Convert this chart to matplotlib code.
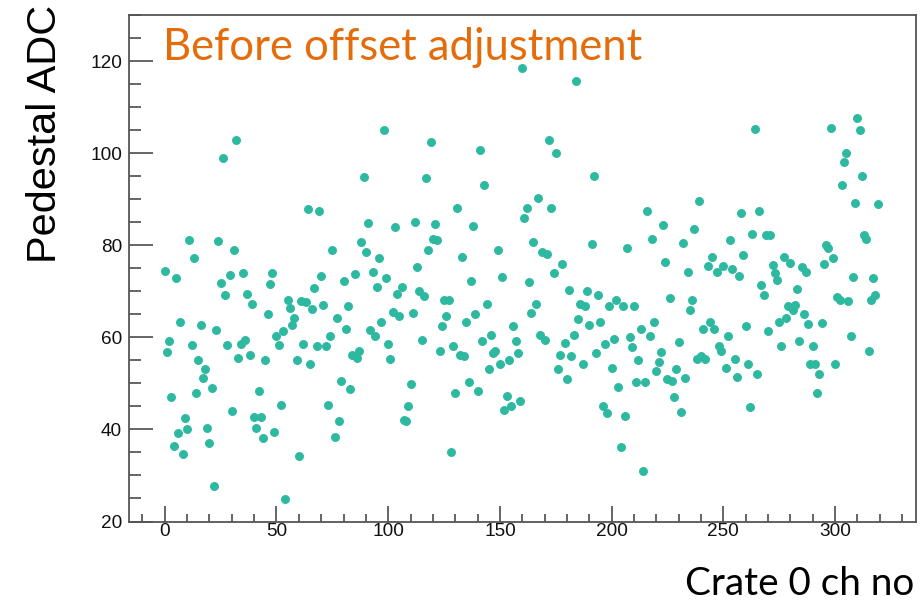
import numpy as np
import matplotlib
matplotlib.use("Agg")
import matplotlib.pyplot as plt
from matplotlib.ticker import MultipleLocator

# ---------------- data ----------------
channels = np.arange(320)
pedestal = [
    74.3, 56.9, 59.1, 47.0, 36.5, 72.9, 39.2, 63.4, 34.7, 42.5,
    40.0, 81.2, 58.3, 77.2, 47.9, 55.0, 62.6, 51.1, 53.1, 40.3,
    37.1, 49.0, 27.8, 61.6, 80.9, 71.7, 98.9, 69.1, 58.3, 73.6,
    44.0, 79.0, 102.9, 55.5, 58.6, 74.0, 59.4, 69.3, 56.1, 67.2,
    42.6, 40.4, 48.3, 42.8, 38.1, 55.1, 65.0, 71.5, 74.0, 39.4,
    60.2, 58.3, 45.2, 61.4, 24.9, 68.2, 66.3, 62.7, 64.1, 55.0,
    34.2, 67.9, 58.6, 67.7, 87.9, 54.2, 66.2, 70.8, 58.1, 87.4,
    73.3, 67.0, 58.1, 45.2, 60.2, 79.0, 38.3, 64.1, 41.9, 50.5,
    72.2, 61.7, 66.9, 48.8, 56.1, 73.8, 55.5, 57.1, 80.8, 94.8,
    78.6, 84.8, 61.6, 74.1, 60.2, 70.9, 77.2, 63.3, 105.1, 72.8,
    58.6, 55.2, 65.5, 83.9, 69.5, 64.6, 71.0, 42.0, 41.9, 45.0,
    49.9, 65.3, 85.0, 75.3, 70.1, 59.5, 68.9, 94.6, 78.9, 102.5,
    81.3, 84.6, 81.1, 57.1, 62.5, 68.0, 64.6, 68.2, 35.2, 58.1,
    48.0, 88.1, 56.2, 77.4, 56.0, 63.3, 50.2, 72.2, 84.1, 65.0,
    48.4, 100.7, 59.3, 93.1, 67.2, 53.1, 60.4, 56.6, 57.1, 79.0,
    54.1, 73.1, 44.3, 47.2, 55.1, 45.1, 62.4, 59.1, 56.5, 46.1,
    118.4, 85.9, 88.0, 72.1, 65.3, 80.8, 67.2, 90.3, 60.6, 78.6,
    59.4, 78.1, 102.9, 88.1, 74.0, 100.1, 53.1, 56.1, 75.9, 58.8,
    51.0, 70.3, 56.0, 60.4, 115.7, 64.0, 67.2, 54.2, 66.9, 70.0,
    62.6, 80.3, 95.0, 56.6, 69.1, 63.3, 45.0, 58.6, 43.5, 66.9,
    53.3, 59.7, 68.2, 49.3, 36.2, 66.9, 42.9, 79.5, 60.0, 57.8,
    66.9, 50.3, 55.0, 61.8, 30.9, 50.3, 87.4, 60.2, 81.4, 63.3,
    52.7, 54.6, 56.9, 84.3, 76.3, 51.0, 68.6, 50.5, 47.1, 53.1,
    58.9, 43.8, 80.5, 51.1, 74.1, 65.9, 68.1, 83.6, 55.2, 89.5,
    55.9, 61.7, 55.2, 75.5, 63.4, 77.4, 61.7, 74.1, 58.2, 57.1,
    75.4, 53.3, 60.2, 81.2, 74.8, 55.2, 51.4, 73.3, 86.9, 77.8,
    62.4, 54.3, 44.8, 82.4, 105.2, 52.0, 87.4, 71.4, 69.1, 82.3,
    61.4, 82.3, 75.7, 73.9, 72.4, 63.4, 58.1, 77.5, 64.1, 66.7,
    76.2, 66.0, 67.0, 70.5, 59.1, 75.2, 65.0, 74.2, 62.8, 54.3,
    58.1, 54.3, 48.0, 52.1, 63.1, 75.9, 80.1, 79.3, 105.5, 77.3,
    54.2, 68.7, 68.2, 93.0, 98.1, 100.1, 67.9, 60.2, 73.1, 89.1,
    107.6, 105.0, 95.0, 82.3, 81.3, 57.1, 68.1, 72.9, 69.2, 89.0,
]
title_text = "Before offset adjustment"
xlabel_text = "Crate 0 ch no"
ylabel_text = "Pedestal ADC"

# ---------------- figure ----------------
W, H = 924, 603
fig = plt.figure(figsize=(W / 100, H / 100), dpi=100)
fig.patch.set_facecolor("white")

left, right, top, bottom = 129, 915.5, 15, 521.5
ax = fig.add_axes([left / W, (H - bottom) / H, (right - left) / W, (bottom - top) / H])

ax.plot(channels, pedestal, linestyle="none", marker="o", ms=5.8,
        mfc="#2db8a0", mec="#2db8a0", mew=0.6)

ax.set_xlim(-16, 336)
ax.set_ylim(20, 130)
ax.xaxis.set_major_locator(MultipleLocator(50))
ax.xaxis.set_minor_locator(MultipleLocator(10))
ax.yaxis.set_major_locator(MultipleLocator(20))
ax.yaxis.set_minor_locator(MultipleLocator(5))

tick_col = "#3c3c3c"
for s in ax.spines.values():
    s.set_color("#555555")
    s.set_linewidth(1.3)

ax.tick_params(axis="y", which="major", direction="in", length=17.3, width=1.1,
               color=tick_col, pad=5, labelsize=13.7)
ax.tick_params(axis="y", which="minor", direction="in", length=8.6, width=1.1,
               color=tick_col)
ax.tick_params(axis="x", which="major", direction="in", length=11.5, width=1.1,
               color=tick_col, pad=1, labelsize=13.7)
ax.tick_params(axis="x", which="minor", direction="in", length=5.8, width=1.1,
               color=tick_col)
for lab in ax.get_xticklabels() + ax.get_yticklabels():
    lab.set_fontfamily(["Liberation Sans", "DejaVu Sans"])
    lab.set_color("#111111")

# ---------------- overlay texts ----------------
t_title = fig.text(162.7 / W, (H - 60) / H, title_text, ha="left", va="baseline",
                   color="#e46c0a", fontsize=30, family=["Lato", "DejaVu Sans"])
t_xl = fig.text(914 / W, (H - 595) / H, xlabel_text, ha="right", va="baseline",
                color="black", fontsize=30, family=["Lato", "DejaVu Sans"])
t_yl = fig.text(64 / W, (H - 263) / H, ylabel_text, ha="right", va="bottom",
                rotation=90, color="black", fontsize=30,
                family=["Liberation Sans", "DejaVu Sans"])


def fit(t, target, use_height=False):
    for _ in range(3):
        fig.canvas.draw()
        bb = t.get_window_extent()
        cur = bb.height if use_height else bb.width
        t.set_fontsize(t.get_fontsize() * target / cur)


fit(t_title, 480)
fit(t_xl, 229)
fit(t_yl, 258, use_height=True)

fig.savefig("out.png", dpi=100, facecolor="white")
